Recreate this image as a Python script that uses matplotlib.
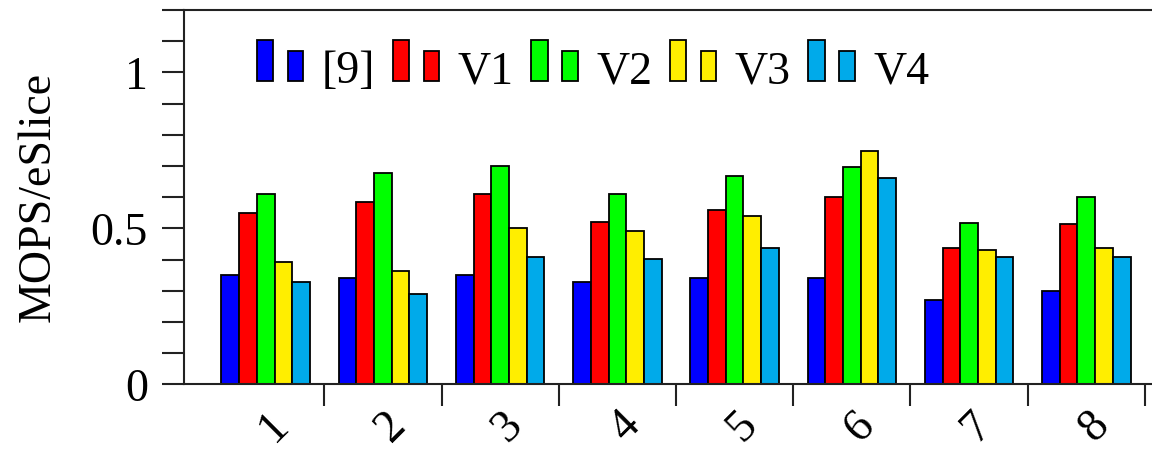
import matplotlib
matplotlib.use("Agg")
import matplotlib.pyplot as plt
import numpy as np
from matplotlib.legend_handler import HandlerBase
from matplotlib.patches import Rectangle
from matplotlib.ticker import FixedLocator, FixedFormatter
from matplotlib.transforms import ScaledTranslation

plt.rcParams['font.family'] = ['Liberation Serif', 'DejaVu Serif']

categories = ["1", "2", "3", "4", "5", "6", "7", "8"]
series_names = ["[9]", "V1", "V2", "V3", "V4"]
ref9 = [0.351, 0.340, 0.351, 0.328, 0.340, 0.340, 0.270, 0.299]
v1 = [0.549, 0.583, 0.611, 0.519, 0.559, 0.599, 0.438, 0.513]
v2 = [0.611, 0.679, 0.699, 0.611, 0.669, 0.696, 0.518, 0.599]
v3 = [0.391, 0.362, 0.501, 0.490, 0.540, 0.749, 0.431, 0.438]
v4 = [0.327, 0.288, 0.409, 0.403, 0.438, 0.662, 0.409, 0.409]
colors = ["#0000FF", "#FF0000", "#00FF00", "#FFEE00", "#00AAEA"]
ytick_vals = [0, 0.5, 1]
ytick_labels = ["0", "0.5", "1"]

series = [ref9, v1, v2, v3, v4]

fig = plt.figure(figsize=(11.52, 4.49), dpi=100)
ax = fig.add_axes([184/1152, 1 - 384.3/449, 1 - 184/1152, (384.3 - 10)/449])

x = np.arange(len(categories))
w = 0.151
bars = []
for i, (vals, c, name) in enumerate(zip(series, colors, series_names)):
    b = ax.bar(x + (i - 2) * w, vals, w, color=c, edgecolor='black', linewidth=1.3, label=name)
    bars.append(b)

ax.set_xlim(-0.697, 7.56)
ax.set_ylim(0, 1.2)

lc = '#222222'
for s in ['left', 'bottom', 'top']:
    ax.spines[s].set_linewidth(1.5)
    ax.spines[s].set_color(lc)
ax.spines['right'].set_visible(False)

ax.yaxis.set_major_locator(FixedLocator(ytick_vals))
ax.yaxis.set_major_formatter(FixedFormatter(ytick_labels))
ax.yaxis.set_minor_locator(FixedLocator(np.arange(0.1, 1.21, 0.1)))
ax.tick_params(axis='y', which='both', direction='out', length=16, width=1.5, color=lc,
               labelsize=33, pad=10)
ax.tick_params(axis='y', which='both', right=False)

ax.set_xticks(x)
ax.set_xticklabels(categories, rotation=45, ha='center', va='top')
ax.xaxis.set_minor_locator(FixedLocator(list(x + 0.5)))
ax.tick_params(axis='x', which='major', length=0, labelsize=33, pad=9)
ax.tick_params(axis='x', which='minor', direction='out', length=16, width=1.5, color=lc)
ax.tick_params(axis='x', which='both', top=False)
shift = ScaledTranslation(8/100, -7/100, fig.dpi_scale_trans)
for lab in ax.get_xticklabels():
    lab.set_transform(lab.get_transform() + shift)

ax.set_ylabel("MOPS/eSlice", fontsize=33, labelpad=22)


class TwoBar(HandlerBase):
    def create_artists(self, legend, orig_handle, xdescent, ydescent, width, height, fontsize, trans):
        fc = orig_handle.get_facecolor()
        x0 = -xdescent
        y0 = 0.06 * fontsize
        h = 0.88 * fontsize
        r1 = Rectangle((x0, y0), width * 0.355, h, facecolor=fc, edgecolor='black',
                       linewidth=1.3, transform=trans)
        r2 = Rectangle((x0 + width * 0.665, y0), width * 0.335, h * 0.745, facecolor=fc,
                       edgecolor='black', linewidth=1.3, transform=trans)
        return [r1, r2]


handles = [b.patches[0] for b in bars]
leg = ax.legend(handles, series_names, handler_map={h: TwoBar() for h in handles},
                loc='upper left', bbox_to_anchor=(0.0751, 0.896), ncol=5, frameon=False,
                fontsize=33, handlelength=1.02, handleheight=0.88, handletextpad=0.4,
                columnspacing=0.38, borderaxespad=0, borderpad=0)

fig.savefig("out.png", dpi=100)
